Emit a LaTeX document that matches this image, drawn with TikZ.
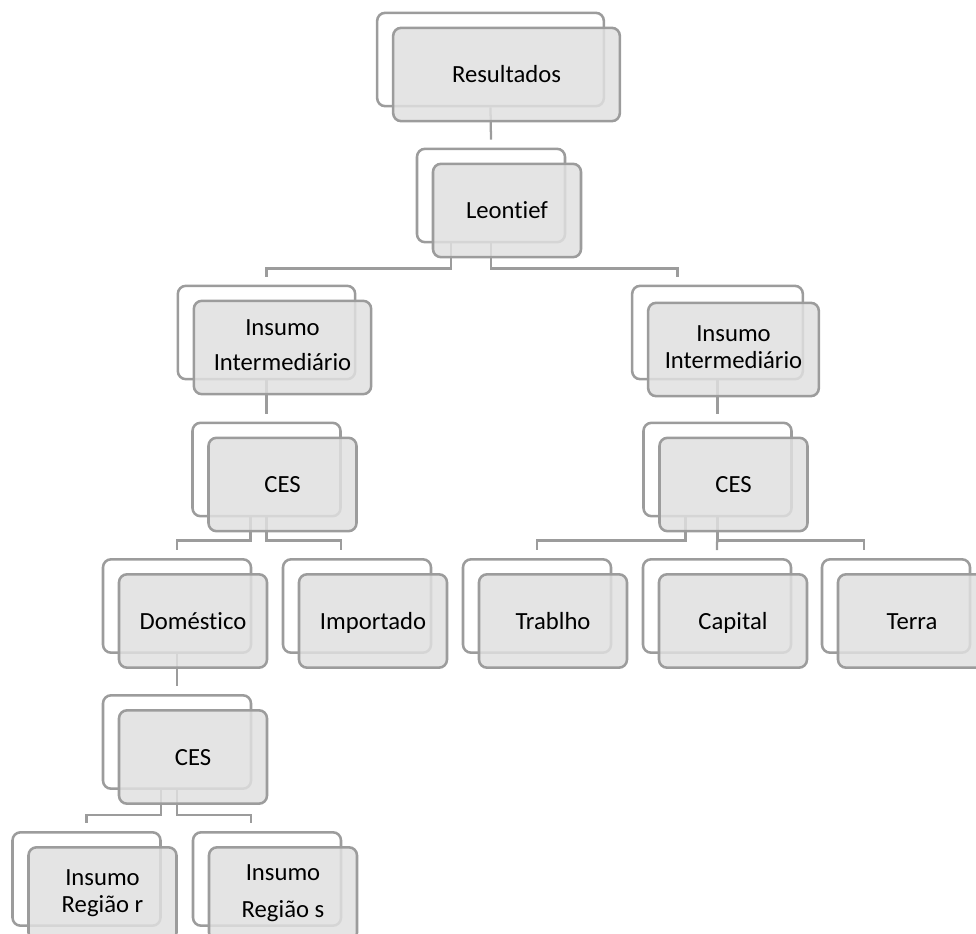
\documentclass[tikz,border=0pt]{standalone}
\usepackage{fontspec}
\setmainfont{Carlito}[Ligatures={NoCommon}]
\usetikzlibrary{backgrounds}

\definecolor{linegray}{HTML}{9C9C9C}
\definecolor{boxgray}{HTML}{E0E0E0}

\newcommand\boxstrut{\rule[-4pt]{0pt}{20pt}}

\tikzset{
  back/.style={draw=linegray, line width=1.9pt, rounded corners=6pt, fill=white,
    minimum width=111pt, minimum height=70pt, inner sep=0pt},
  front/.style={back, fill=boxgray, fill opacity=0.85, text opacity=1,
    align=center, font=\fontsize{18.5}{20}\selectfont,
    execute at begin node=\boxstrut, execute at end node=\boxstrut},
  link/.style={draw=linegray, line width=1.7pt},
}

\begin{document}
\begin{tikzpicture}[x=0.75pt,y=-0.75pt]

  \useasboundingbox (0,0) rectangle (976,934);

  % Nodes

  \node[back,minimum width=170pt] (res-b) at (490.5,59.5) {};
  \node[front,minimum width=170pt] (res) at ([shift={(16,15)}]res-b.center) {Resultados};

  \node[back] (leo-b) at (491,195.5) {};
  \node[front] (leo) at ([shift={(16,15)}]leo-b.center) {Leontief};

  \node[back,minimum width=133pt] (ii1-b) at (266.5,332.5) {};
  \node[front,minimum width=133pt] (ii1) at ([shift={(16,15)}]ii1-b.center) {Insumo\\[6pt]Intermediário};
  \node[back,minimum width=128pt] (ii2-b) at (717.5,332.5) {};
  \node[front,minimum width=128pt] (ii2) at ([shift={(16,17)}]ii2-b.center) {Insumo\\Intermediário};

  \node[back] (ces1-b) at (266.5,469.5) {};
  \node[front] (ces1) at ([shift={(16,15)}]ces1-b.center) {CES};
  \node[back] (ces2-b) at (717.5,469.5) {};
  \node[front] (ces2) at ([shift={(16,15)}]ces2-b.center) {CES};

  \node[back] (dom-b) at (177,606) {};
  \node[front] (dom) at ([shift={(16,15)}]dom-b.center) {Doméstico};
  \node[back] (imp-b) at (357,606) {};
  \node[front] (imp) at ([shift={(16,15)}]imp-b.center) {Importado};

  \node[back] (tra-b) at (537,606) {};
  \node[front] (tra) at ([shift={(16,15)}]tra-b.center) {Trablho};
  \node[back] (cap-b) at (717,606) {};
  \node[front] (cap) at ([shift={(16,15)}]cap-b.center) {Capital};
  \node[back] (ter-b) at (896,606) {};
  \node[front] (ter) at ([shift={(16,15)}]ter-b.center) {Terra};

  \node[back] (ces3-b) at (177,742) {};
  \node[front] (ces3) at ([shift={(16,15)}]ces3-b.center) {CES};

  \node[back] (rr-b) at (86.5,879) {};
  \node[front] (rr) at ([shift={(16,15)}]rr-b.center) {Insumo\\Região r};
  \node[back] (rs-b) at (267,879) {};
  \node[front] (rs) at ([shift={(16,15)}]rs-b.center) {Insumo\\[8pt]Região s};

  % Connectors

  \begin{scope}[on background layer]
    \draw[link] (res-b.south) -- ([yshift=6pt]leo-b.north);

    \draw[link] ([xshift=-30pt]leo-b.south) -- ++(0,25) -| ([yshift=6pt]ii1-b.north);
    \draw[link] (leo-b.south) -- ++(0,25) -| ([xshift=-30pt,yshift=6pt]ii2-b.north);

    \draw[link] (ii1-b.south) -- ([yshift=6pt]ces1-b.north);
    \draw[link] (ii2-b.south) -- ([yshift=6pt]ces2-b.north);

    \draw[link] ([xshift=-12pt]ces1-b.south) -- ++(0,23) -| ([yshift=6pt]dom-b.north);
    \draw[link] (ces1-b.south) -- ++(0,23) -| ([xshift=-12pt,yshift=6pt]imp-b.north);

    \draw[link] ([xshift=-24pt]ces2-b.south) -- ++(0,23) -| ([yshift=6pt]tra-b.north);
    \draw[link] (ces2-b.south) -- ([yshift=6pt]cap-b.north);
    \draw[link] (ces2-b.south) -- ++(0,23) -| ([xshift=-24pt,yshift=6pt]ter-b.north);

    \draw[link] (dom-b.south) -- ([yshift=6pt]ces3-b.north);

    \draw[link] ([xshift=-12pt]ces3-b.south) -- ++(0,25) -| ([yshift=6pt]rr-b.north);
    \draw[link] (ces3-b.south) -- ++(0,25) -| ([xshift=-12pt,yshift=6pt]rs-b.north);
  \end{scope}

\end{tikzpicture}
\end{document}
